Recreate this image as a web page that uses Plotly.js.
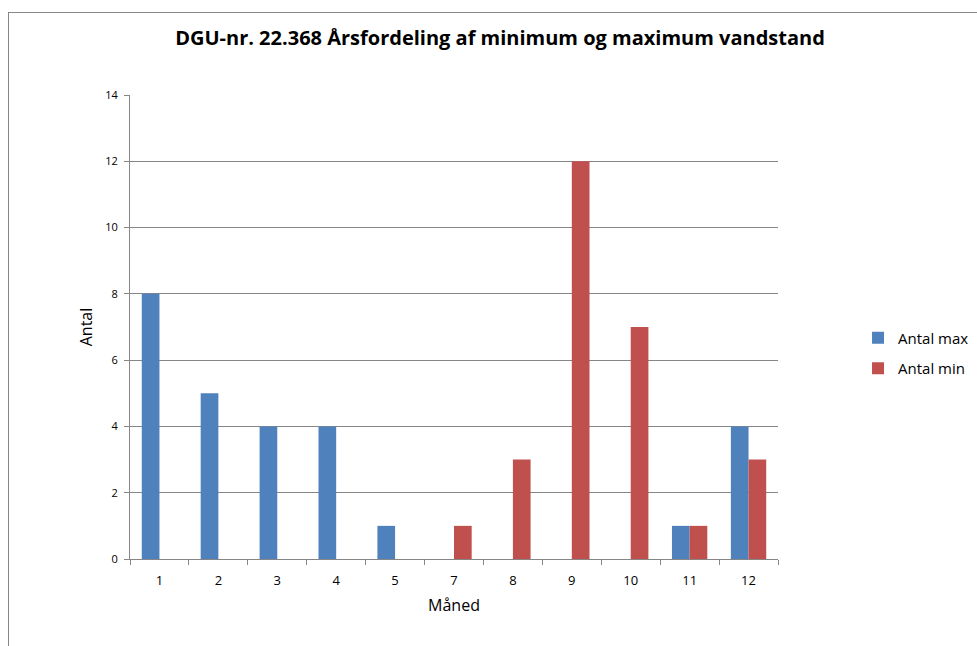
<!DOCTYPE html>
<html>
<head>
<meta charset="utf-8">
<script src="https://cdn.plot.ly/plotly-3.0.1.min.js"></script>
<style>
html,body{margin:0;padding:0;background:#fff;}
#wrap{position:relative;width:977px;height:646px;overflow:hidden;background:#fff;}
#chart{position:absolute;left:8px;top:12px;width:1010px;height:634px;border-left:1px solid #868686;border-top:1px solid #868686;}
</style>
</head>
<body>
<div id="wrap"><div id="chart"></div></div>
<script>
var months = ["1","2","3","4","5","7","8","9","10","11","12"];
var antalMax = [8,5,4,4,1,0,0,0,0,1,4];
var antalMin = [0,0,0,0,0,1,3,12,7,1,3];
var yTicks = [0,2,4,6,8,10,12,14];

var fontFam = "Open Sans, Noto Sans, sans-serif";
var data = [
  {type:"bar", x:months, y:antalMax, name:"Antal max", legendgroup:"a", marker:{color:"#4F81BD"}},
  {type:"bar", x:months, y:antalMin, name:"Antal min", legendgroup:"b", marker:{color:"#C0504D"}}
];
var layout = {
  width:1010, height:633,
  margin:{l:121, r:241, t:82, b:87},
  paper_bgcolor:"#ffffff", plot_bgcolor:"#ffffff",
  barmode:"group", bargap:0.4, bargroupgap:0,
  font:{family:fontFam, color:"#000"},
  title:{text:"<b>DGU-nr. 22.368 Årsfordeling af minimum og maximum vandstand</b>",
         font:{size:20, color:"#000", family:fontFam}, x:491/1010, xref:"container", xanchor:"center", y:1-25/633, yref:"container", yanchor:"middle"},
  xaxis:{type:"category", showline:true, linecolor:"#868686", linewidth:1,
         ticks:"outside", tickson:"boundaries", ticklen:5, tickcolor:"#868686",
         ticklabelstandoff:9,
         tickfont:{size:13, color:"#000"}, showgrid:false,
         title:{text:"Måned", font:{size:16, color:"#000"}, standoff:12}},
  yaxis:{range:[0,14], tickvals:yTicks, ticktext:yTicks.map(String), showline:true, linecolor:"#868686", linewidth:1,
         ticks:"outside", ticklen:5, tickcolor:"#868686", ticklabelstandoff:4,
         tickfont:{size:11, color:"#000"}, gridcolor:"#868686", gridwidth:1, zeroline:false,
         title:{text:"Antal", font:{size:16, color:"#000"}, standoff:8}},
  showlegend:true,
  legend:{x:1.1235, xanchor:"left", y:0.444, yanchor:"middle", font:{size:15, color:"#000"}, bgcolor:"rgba(0,0,0,0)", itemwidth:30, tracegroupgap:8}
};
Plotly.newPlot("chart", data, layout, {displayModeBar:false, staticPlot:true});
</script>
</body>
</html>
